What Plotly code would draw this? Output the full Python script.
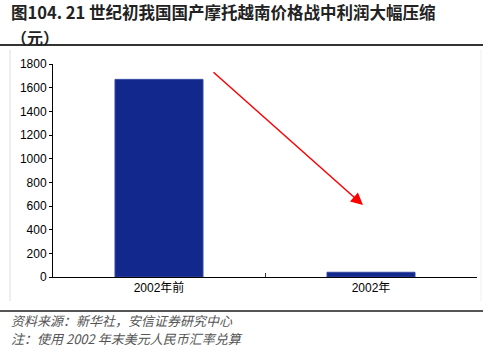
import plotly.graph_objects as go

categories = ["2002年前", "2002年"]
profit = [1670, 40]
y_ticks = list(range(0, 1801, 200))

title_line1 = "<b>图104. 21 世纪初我国国产摩托越南价格战中利润大幅压缩</b>"
title_line2 = "<b>（元）</b>"
source_text = "资料来源：新华社，安信证券研究中心"
note_text = "注：使用 2002 年末美元人民币汇率兑算"

W, H = 490, 357
L, R, T, B = 53, 13, 64, 80

def px(x):
    return (x - L) / (W - L - R)

def py(y):
    return (H - B - y) / (H - T - B)

fig = go.Figure()
fig.add_trace(go.Bar(
    x=categories, y=profit, width=0.415,
    marker=dict(color="#12288C", line=dict(color="#3347a0", width=1)),
    hoverinfo="skip",
))

fig.update_layout(
    width=W, height=H, autosize=False,
    margin=dict(l=L, r=R, t=T, b=B),
    paper_bgcolor="white", plot_bgcolor="white",
    showlegend=False,
    font=dict(family="Liberation Sans, Arial, Noto Sans CJK SC", size=12, color="#000"),
    xaxis=dict(
        range=[-0.5, 1.5], showline=True, linecolor="#000", linewidth=1,
        ticks="inside", ticklen=4, tickcolor="#333", tickson="boundaries",
        showgrid=False, zeroline=False,
        tickfont=dict(family="Liberation Sans, Noto Sans CJK SC", size=12, color="#000"),
    ),
    yaxis=dict(
        range=[0, 1800], tickvals=y_ticks, showline=True, linecolor="#000", linewidth=1,
        ticks="outside", ticklen=3, tickcolor="#000",
        showgrid=False, zeroline=False,
        tickfont=dict(family="Liberation Sans, Arial", size=12, color="#000"),
    ),
)

# title (two lines)
fig.add_annotation(
    xref="paper", yref="paper", x=px(10), y=py(12.5), xanchor="left", yanchor="middle",
    text=title_line1, showarrow=False, align="left", borderpad=0,
    font=dict(family="Noto Sans CJK SC", size=16.5, color="#222"),
)
fig.add_annotation(
    xref="paper", yref="paper", x=px(10), y=py(37), xanchor="left", yanchor="middle",
    text=title_line2, showarrow=False, align="left", borderpad=0,
    font=dict(family="Noto Sans CJK SC", size=16, color="#222"),
)
# source & note
fig.add_annotation(
    xref="paper", yref="paper", x=px(10), y=py(320), xanchor="left", yanchor="middle",
    text="<i>" + source_text + "</i>", showarrow=False, align="left", borderpad=0,
    font=dict(family="Noto Sans CJK SC", size=13, color="#555"),
)
fig.add_annotation(
    xref="paper", yref="paper", x=px(10), y=py(338), xanchor="left", yanchor="middle",
    text="<i>" + note_text + "</i>", showarrow=False, align="left", borderpad=0,
    font=dict(family="Noto Sans CJK SC", size=13, color="#555"),
)

# red arrow
fig.add_annotation(
    xref="x", yref="y", axref="x", ayref="y",
    x=0.962, y=608, ax=0.25, ay=1741,
    text="", showarrow=True, arrowhead=2, arrowsize=1.6, arrowwidth=1.5,
    arrowcolor="#ff0000",
)

# separator lines and faint frame
fig.add_shape(type="line", xref="paper", yref="paper",
              x0=px(0), x1=px(483), y0=py(45), y1=py(45),
              line=dict(color="#333", width=2))
fig.add_shape(type="line", xref="paper", yref="paper",
              x0=px(0), x1=px(483), y0=py(311), y1=py(311),
              line=dict(color="#555", width=2))
fig.add_shape(type="line", xref="paper", yref="paper",
              x0=px(10), x1=px(10), y0=py(50), y1=py(301),
              line=dict(color="#dddddd", width=1))
fig.add_shape(type="line", xref="paper", yref="paper",
              x0=px(481), x1=px(481), y0=py(50), y1=py(301),
              line=dict(color="#eeeeee", width=1))

fig.write_html("out.html", config={"displayModeBar": False},
               post_script="document.body.style.margin='0';")
